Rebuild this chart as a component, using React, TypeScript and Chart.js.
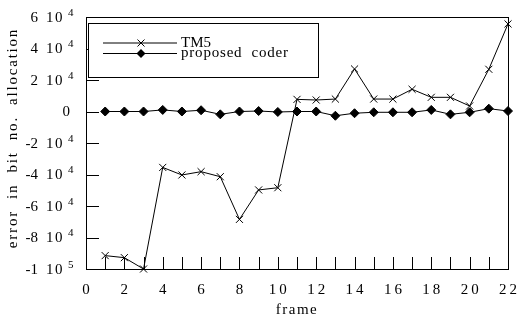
import React, { useEffect, useRef } from "react";
import { Chart, registerables } from "chart.js";

Chart.register(...registerables);

const frames = [1, 2, 3, 4, 5, 6, 7, 8, 9, 10, 11, 12, 13, 14, 15, 16, 17, 18, 19, 20, 21, 22];
const tm5 = [-91500, -92800, -100000, -35500, -40300, -38200, -41400, -68500, -49800, -48400, 7700, 7300, 7900, 27000, 7900, 7900, 14100, 9000, 9000, 3500, 26800, 55600];
const proposed = [0, 0, 0, 1000, 0, 800, -1800, 0, 300, -300, 0, 0, -2700, -1100, -500, -500, -500, 1000, -1800, -500, 1800, 300];
const seriesNames = ["TM5", "proposed  coder"];
const xTickValues = [0, 2, 4, 6, 8, 10, 12, 14, 16, 18, 20, 22];
const xMinorTicks = [1, 2, 3, 4, 5, 6, 7, 8, 9, 10, 11, 12, 13, 14, 15, 16, 17, 18, 19, 20, 21];
const yTickValues = [60000, 40000, 20000, 0, -20000, -40000, -60000, -80000, -100000];
const yTickMantissa = ["6", "4", "2", "0", "-2", "-4", "-6", "-8", "-1"];
const yTickExponent = ["4", "4", "4", "", "4", "4", "4", "4", "5"];
const xTitle = "frame";
const yTitle = "error  in  bit  no.  allocation";

const FAMILY = "'Liberation Serif', 'Times New Roman', Times, serif";
const FONT = "15px " + FAMILY;
const SUPFONT = "11px " + FAMILY;

function setSpacing(ctx: any, px: number) {
  if ("letterSpacing" in ctx) ctx.letterSpacing = px + "px";
}

const decorPlugin = {
  id: "decor",
  beforeDatasetsDraw(chart: any) {
    const { ctx, chartArea } = chart;
    const { left, right, top, bottom } = chartArea;
    const xs = chart.scales.x;
    const ys = chart.scales.y;
    ctx.save();
    ctx.strokeStyle = "#000";
    ctx.lineWidth = 1;
    ctx.strokeRect(Math.round(left) + 0.5, Math.round(top) + 0.5, Math.round(right - left), Math.round(bottom - top));
    ctx.beginPath();
    yTickValues.forEach((v) => {
      const py = Math.round(ys.getPixelForValue(v)) + 0.5;
      ctx.moveTo(left, py);
      ctx.lineTo(left + 13, py);
    });
    xMinorTicks.forEach((v) => {
      const px = Math.round(xs.getPixelForValue(v)) + 0.5;
      ctx.moveTo(px, bottom);
      ctx.lineTo(px, bottom - 12);
    });
    ctx.stroke();

    ctx.fillStyle = "#000";
    yTickValues.forEach((v, i) => {
      const py = ys.getPixelForValue(v);
      ctx.textBaseline = "middle";
      ctx.font = FONT;
      setSpacing(ctx, 0);
      if (yTickExponent[i] === "") {
        ctx.textAlign = "right";
        ctx.fillText(yTickMantissa[i], 70, py + 1);
      } else {
        ctx.textAlign = "right";
        ctx.fillText(yTickMantissa[i], 38, py + 1);
        ctx.textAlign = "left";
        setSpacing(ctx, 1.5);
        ctx.fillText("10", 46, py + 1);
        ctx.font = SUPFONT;
        setSpacing(ctx, 0);
        ctx.fillText(yTickExponent[i], 68, py - 4);
      }
    });
    ctx.font = FONT;
    setSpacing(ctx, 3);
    ctx.textAlign = "center";
    ctx.textBaseline = "middle";
    xTickValues.forEach((v) => {
      const px = xs.getPixelForValue(v);
      ctx.fillText(String(v), px + 1.5, bottom + 21);
    });
    setSpacing(ctx, 1.5);
    ctx.fillText(xTitle, (left + right) / 2, bottom + 41);
    ctx.save();
    ctx.translate(13, 138);
    ctx.rotate(-Math.PI / 2);
    setSpacing(ctx, 1.8);
    ctx.fillText(yTitle, 0, 0);
    ctx.restore();
    ctx.restore();
  },
  afterDraw(chart: any) {
    const { ctx, chartArea } = chart;
    const { left } = chartArea;
    ctx.save();
    const bx = left + 2.5;
    const by = 23.5;
    const bw = 230;
    const bh = 54;
    ctx.fillStyle = "#fff";
    ctx.fillRect(bx, by, bw, bh);
    ctx.strokeStyle = "#000";
    ctx.lineWidth = 1;
    ctx.strokeRect(bx, by, bw, bh);
    const rows = [43, 53.5];
    rows.forEach((ry, i) => {
      ctx.beginPath();
      ctx.moveTo(103, ry);
      ctx.lineTo(177, ry);
      ctx.stroke();
      const mx = 141;
      if (i === 0) {
        ctx.beginPath();
        const r = 3.5;
        ctx.moveTo(mx - r, ry - r);
        ctx.lineTo(mx + r, ry + r);
        ctx.moveTo(mx - r, ry + r);
        ctx.lineTo(mx + r, ry - r);
        ctx.stroke();
      } else {
        ctx.beginPath();
        ctx.fillStyle = "#000";
        ctx.moveTo(mx, ry - 4.5);
        ctx.lineTo(mx + 4.5, ry);
        ctx.lineTo(mx, ry + 4.5);
        ctx.lineTo(mx - 4.5, ry);
        ctx.closePath();
        ctx.fill();
      }
      ctx.fillStyle = "#000";
      ctx.font = FONT;
      setSpacing(ctx, i === 0 ? 0 : 0.8);
      ctx.textAlign = "left";
      ctx.textBaseline = "middle";
      ctx.fillText(seriesNames[i], 181, ry);
    });
    ctx.restore();
  },
};

export default function App() {
  const ref = useRef<HTMLCanvasElement | null>(null);
  useEffect(() => {
    if (!ref.current) return;
    let chart: any = null;
    let cancelled = false;
    const make = () => {
      if (cancelled || !ref.current) return;
      chart = new Chart(ref.current, {
        type: "line",
        data: {
          datasets: [
            {
              label: seriesNames[0],
              data: frames.map((f, i) => ({ x: f, y: tm5[i] })),
              borderColor: "#000",
              borderWidth: 1,
              pointStyle: "crossRot",
              pointRadius: 5,
              pointBorderColor: "#000",
              pointBorderWidth: 1,
              backgroundColor: "#000",
              fill: false,
              tension: 0,
              clip: false as any,
            },
            {
              label: seriesNames[1],
              data: frames.map((f, i) => ({ x: f, y: proposed[i] })),
              borderColor: "#000",
              borderWidth: 1,
              pointStyle: "rectRot",
              pointRadius: 4.5,
              pointBackgroundColor: "#000",
              pointBorderColor: "#000",
              pointBorderWidth: 1,
              fill: false,
              tension: 0,
              clip: false as any,
            },
          ],
        },
        options: {
          animation: false,
          responsive: false,
          maintainAspectRatio: false,
          layout: { padding: { left: 86, top: 17, right: 13, bottom: 51 } },
          plugins: { legend: { display: false }, tooltip: { enabled: false } },
          scales: {
            x: { type: "linear", min: 0, max: 22, display: false },
            y: { type: "linear", min: -100000, max: 60000, display: false },
          },
        },
        plugins: [decorPlugin],
      });
    };
    const fonts: any = (document as any).fonts;
    if (fonts && fonts.load) {
      Promise.all([fonts.load(FONT), fonts.load(SUPFONT)]).then(make, make);
    } else {
      make();
    }
    return () => {
      cancelled = true;
      if (chart) chart.destroy();
    };
  }, []);
  return (
    <div style={{ position: "absolute", left: 0, top: 0, width: 521, height: 320, background: "#fff", fontFamily: FAMILY }}>
      <span style={{ position: "absolute", left: -9999, fontFamily: FAMILY }}>0</span>
      <canvas ref={ref} width={521} height={320} style={{ width: 521, height: 320, display: "block" }} />
    </div>
  );
}
